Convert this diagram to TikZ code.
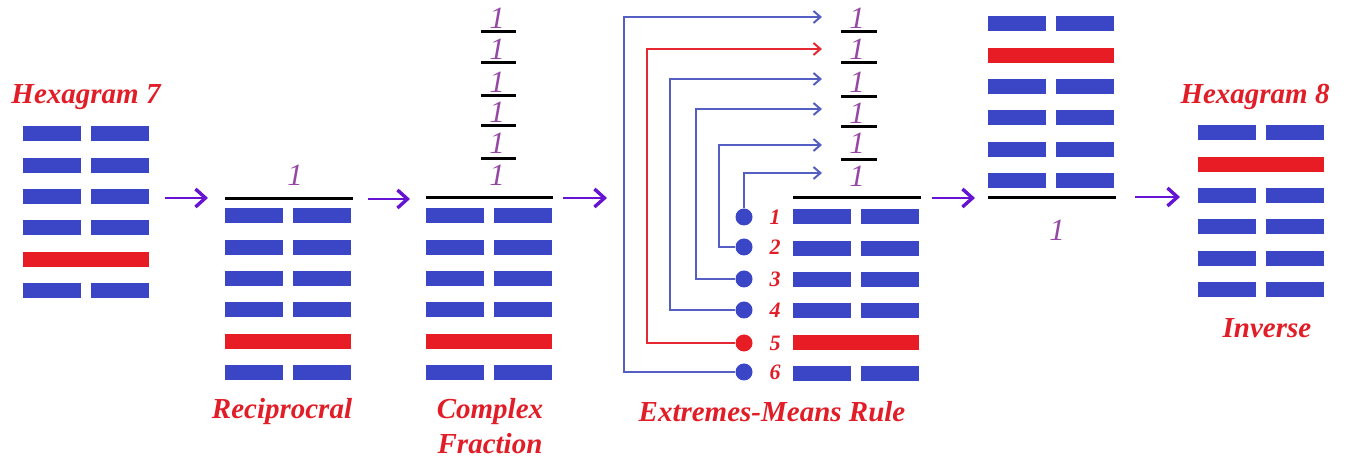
\documentclass[tikz,border=0pt]{standalone}
\usepackage{fontspec}
\setmainfont{Liberation Serif}
\usetikzlibrary{arrows.meta}
\definecolor{yinblue}{RGB}{58,70,198}
\definecolor{yangred}{RGB}{232,28,36}
\definecolor{labred}{RGB}{225,30,40}
\definecolor{onepurple}{RGB}{150,70,165}
\definecolor{goviolet}{RGB}{100,20,210}
\definecolor{wireblue}{RGB}{85,95,195}
\definecolor{wirered}{RGB}{230,40,50}

% one hexagram: name, left x, first row y, lines from top (1 = solid red)
\newcommand{\hexa}[4]{%
  \foreach \t [count=\k] in {#4} {
    \pgfmathsetmacro{\yy}{#3+31.3*(\k-1)}
    \ifnum\t=1
      \node[yang] (#1-\k) at (#2+63,\yy) {};
    \else
      \node[yin] (#1-\k l) at (#2+29,\yy) {};
      \node[yin] (#1-\k r) at (#2+97,\yy) {};
    \fi
  }}

\begin{document}
\begin{tikzpicture}[x=0.5pt,y=-0.5pt,
    yin/.style={fill=yinblue, minimum width=29pt, minimum height=7.5pt, inner sep=0pt},
    yang/.style={fill=yangred, minimum width=63pt, minimum height=7.5pt, inner sep=0pt},
    lbl/.style={text=labred, font=\fontsize{14.5}{16}\selectfont\bfseries\itshape},
    one/.style={text=onepurple, font=\fontsize{15.5}{16}\selectfont\itshape, inner sep=0pt},
    num/.style={text=labred, font=\fontsize{11}{12}\selectfont\bfseries\itshape},
    bar/.style={line width=1.5pt},
    go/.style={goviolet, line width=0.8pt, -{Straight Barb[length=5pt,width=9pt,line width=1.7pt]}},
    wire/.style={line width=0.7pt, -{Straight Barb[length=3.5pt,width=6pt,line width=1pt]}},
    dot/.style={circle, minimum size=8.5pt, inner sep=0pt}]
  \useasboundingbox (0,0) rectangle (1345,459);

  % hexagram 7
  \node[lbl] (h7) at (86,97) {Hexagram 7};
  \hexa{a}{23}{134}{0,0,0,0,1,0}

  % reciprocal
  \hexa{b}{225}{216}{0,0,0,0,1,0}
  \draw[bar] (225,199) -- (353,199);
  \node[one] (b1) at (295,175) {1};
  \node[lbl] (rec) at (282,412) {Reciprocral};

  % complex fraction
  \hexa{c}{426}{216}{0,0,0,0,1,0}
  \draw[bar] (426,198) -- (553,198);
  \foreach \y [count=\k] in {18,49,82,112,143,175}
    \node[one] (c\k) at (497,\y) {1};
  \foreach \y in {32,63,96,126,159}
    \draw[bar] (481,\y) -- (516,\y);
  \node[lbl] (cf1) at (490,412) {Complex};
  \node[lbl] (cf2) at (490,444) {Fraction};

  % extremes-means rule
  \hexa{d}{793}{217}{0,0,0,0,1,0}
  \draw[bar] (793,198) -- (921,198);
  \foreach \y [count=\k] in {18,49,82,113,143,176}
    \node[one] (e\k) at (857,\y) {1};
  \foreach \y in {32,63,97,127,160}
    \draw[bar] (841,\y) -- (877,\y);
  \foreach \i/\y/\vx/\ty/\col/\dcol/\side in
      {1/217/744/173/wireblue/yinblue/north, 2/247/719/145/wireblue/yinblue/west,
       3/279/696/109/wireblue/yinblue/west, 4/310/670/79/wireblue/yinblue/west,
       5/343/647/49/wirered/yangred/west, 6/372/624/17/wireblue/yinblue/west} {
    \node[dot, fill=\dcol] (p\i) at (744,\y) {};
    \node[num] (n\i) at (775,\y) {\i};
    \coordinate (v\i) at (\vx,\ty);
    \coordinate (t\i) at (822,\ty);
    \draw[wire, \col] (p\i.\side) -| (v\i) -- (t\i);
  }
  \node[lbl] (emr) at (772,412) {Extremes-Means Rule};

  % result over 1
  \hexa{f}{988}{24}{0,1,0,0,0,0}
  \draw[bar] (988,198) -- (1116,198);
  \node[one] (f1) at (1057,230) {1};

  % hexagram 8
  \node[lbl] (h8) at (1255,97) {Hexagram 8};
  \hexa{g}{1198}{133}{0,1,0,0,0,0}
  \node[lbl] (inv) at (1267,328) {Inverse};

  % steps
  \foreach \i/\xa/\xb/\y in {1/165/208/198, 2/368/410/199, 3/563/607/198,
                             4/932/975/198, 5/1135/1180/197} {
    \coordinate (s\i) at (\xa,\y);
    \coordinate (e\i) at (\xb,\y);
    \draw[go] (s\i) -- (e\i);
  }
\end{tikzpicture}
\end{document}
